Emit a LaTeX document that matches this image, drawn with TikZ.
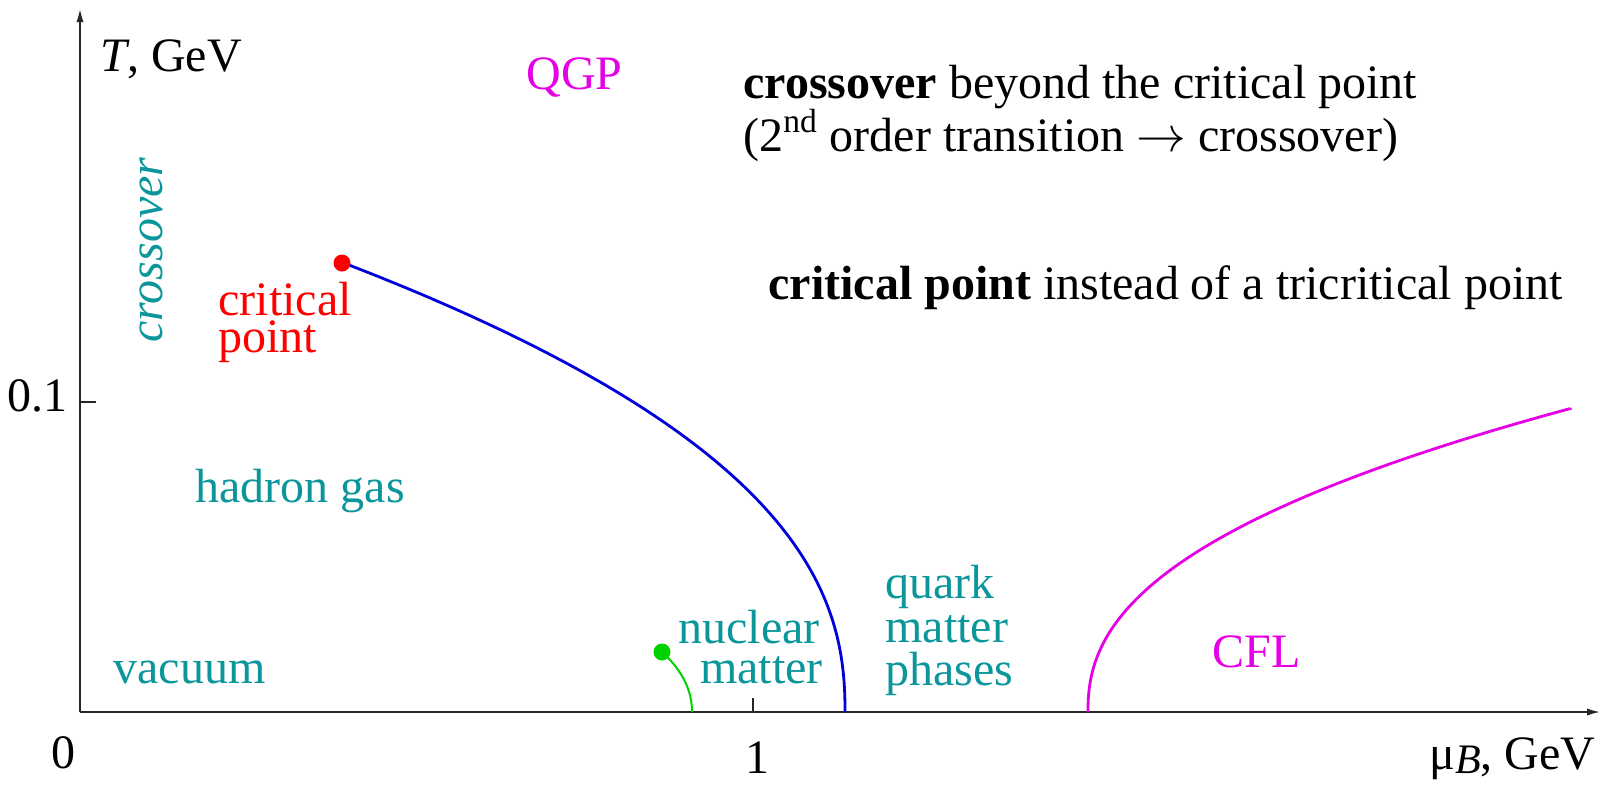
\documentclass[tikz,border=0pt]{standalone}
\usepackage{fontspec}
\usepackage{graphicx}
\setmainfont{Liberation Serif}
\usetikzlibrary{arrows.meta}
\definecolor{tealtxt}{RGB}{10,150,155}
\definecolor{qgpmag}{RGB}{230,0,230}
\definecolor{cpred}{RGB}{255,0,0}
\definecolor{lineblue}{RGB}{0,0,220}
\definecolor{linegreen}{RGB}{0,210,0}
\begin{document}
\begin{tikzpicture}[x=0.5pt,y=-0.5pt,
  lbl/.style={inner sep=0pt, anchor=base west, font=\fontsize{24}{28}\selectfont},
  phase/.style={lbl, text=tealtxt},
  axisline/.style={line width=1.1pt, draw=black!85, -{Latex[length=7pt,width=3.6pt]}},
  tickline/.style={line width=1pt, draw=black!85},
  dotnode/.style={circle, inner sep=0pt, minimum size=8.5pt},
]
\useasboundingbox (0,0) rectangle (1602,784);
% axes
\coordinate (O) at (80,712);
\coordinate (ytop) at (80,8);
\coordinate (xend) at (1601,712);
\draw[axisline] (O) -- (ytop);
\draw[axisline] (O) -- (xend);
% ticks
\coordinate (t1b) at (753,712);
\coordinate (t1t) at (753,698);
\draw[tickline] (t1b) -- (t1t);
\coordinate (ta) at (80,402);
\coordinate (tb) at (96,402);
\draw[tickline] (ta) -- (tb);
% axis labels
\node[lbl] (Tlab) at (100,71) {\textit{T}, GeV};
\node[lbl, anchor=base] (zero) at (63,768) {0};
\node[lbl, anchor=base] (one) at (757,773) {1};
\node[lbl, anchor=base east] (ptone) at (68,411) {0.1};
\node[lbl, anchor=base east] (mulab) at (1596,769) {μ\raisebox{-2pt}{\fontsize{21}{21}\selectfont\itshape B}, GeV};
% curves
\coordinate (cp) at (342,263);
\coordinate (cpend) at (845,712);
\draw[lineblue, line width=1.4pt] (cp) -- plot[domain=7.953:0.01, samples=160, variable=\s] ({845-(\s)^3},{712-31*(\s)^1.29}) -- (cpend);
\coordinate (nm) at (662,652);
\coordinate (nmend) at (692,712);
\draw[linegreen, line width=1pt] (nm) .. controls (684,672) and (692,692) .. (nmend);
\coordinate (cflbot) at (1088,712);
\coordinate (cfltop) at (1570,408);
\draw[qgpmag, line width=1.4pt] (cflbot) -- plot[domain=0.01:7.842, samples=160, variable=\s] ({1088+(\s)^3},{712-21.3*(\s)^1.29}) -- (cfltop);
\node[dotnode, fill=cpred] (cpdot) at (cp) {};
\node[dotnode, fill=linegreen] (nmdot) at (nm) {};
% region labels
\node[lbl, text=qgpmag] (qgp) at (526,89) {QGP};
\node[phase, rotate=90, anchor=base, font=\fontsize{24}{28}\selectfont\itshape] (xover) at (162,250) {crossover};
\node[lbl, text=cpred, text depth=0pt] (crit1) at (218,315) {critical};
\node[lbl, text=cpred] (crit2) at (218,352) {point};
\node[phase] (hadron) at (195,502) {hadron gas};
\node[phase] (vac) at (113,683) {vacuum};
\node[phase, anchor=base east, text depth=0pt] (nuc1) at (820,643) {nuclear};
\node[phase, anchor=base east] (nuc2) at (823,683) {matter};
\node[phase, text depth=0pt] (qm1) at (885,598) {quark};
\node[phase, text depth=0pt] (qm2) at (885,642) {matter};
\node[phase] (qm3) at (885,685) {phases};
\node[lbl, text=qgpmag] (cfl) at (1212,667) {CFL};
% notes
\node[lbl, text depth=0pt] (note1) at (743,98) {\textbf{crossover} beyond the critical point};
\node[lbl] (note2) at (743,151) {(2\textsuperscript{nd} order transition \(\rightarrow\) crossover)};
\node[lbl] (note3) at (768,299) {\textbf{critical point} instead of a tricritical point};
\end{tikzpicture}
\end{document}
